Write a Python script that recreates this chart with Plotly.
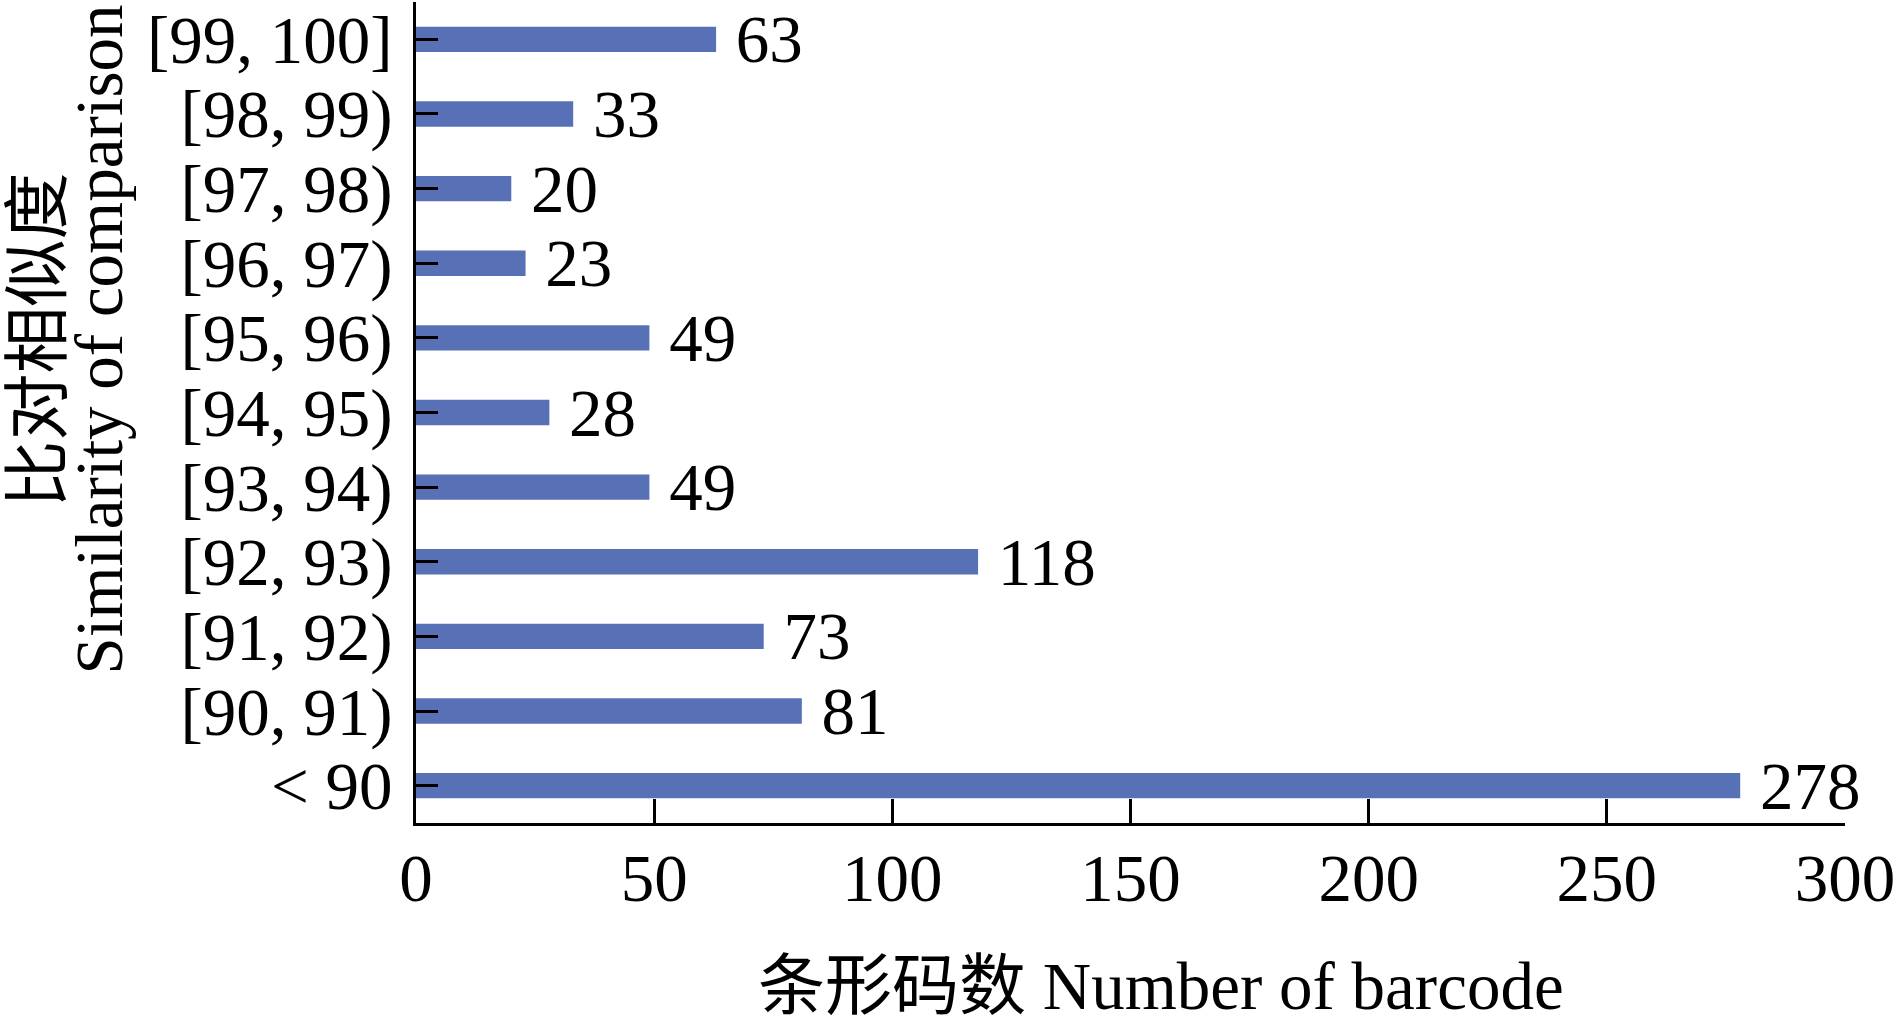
import plotly.graph_objects as go

categories = ["< 90", "[90, 91)", "[91, 92)", "[92, 93)", "[93, 94)", "[94, 95)",
              "[95, 96)", "[96, 97)", "[97, 98)", "[98, 99)", "[99, 100]"]
counts = [278, 81, 73, 118, 49, 28, 49, 23, 20, 33, 63]
x_ticks = [0, 50, 100, 150, 200, 250, 300]

x_title = "条形码数 Number of barcode"
y_title_cn = "比对相似度"
y_title_en = "Similarity of comparison"

FONT = "Liberation Serif, Times New Roman, Noto Sans CJK SC, serif"
BAR_COLOR = "#5870B6"
FS = 67

fig = go.Figure()
fig.add_trace(go.Bar(
    x=counts, y=categories, orientation="h",
    marker=dict(color=BAR_COLOR, line=dict(width=0)),
    width=0.34,
    text=["\u00a0" + str(v) for v in counts],
    textposition="outside",
    constraintext="none",
    cliponaxis=False,
    textfont=dict(family=FONT, size=FS, color="black"),
    hoverinfo="x+y",
))

fig.update_layout(
    width=1896, height=1029,
    margin=dict(l=416, r=51, t=2, b=206, pad=0),
    paper_bgcolor="white", plot_bgcolor="white",
    showlegend=False,
    font=dict(family=FONT, size=FS, color="black"),
    xaxis=dict(
        range=[0, 300], tickmode="array", tickvals=x_ticks,
        ticktext=[str(t) for t in x_ticks],
        ticks="inside", ticklen=24, tickwidth=3, tickcolor="black",
        showline=True, linecolor="black", linewidth=3,
        showgrid=False, zeroline=False, automargin=False,
        tickfont=dict(family=FONT, size=FS, color="black"),
        ticklabelstandoff=-5,
    ),
    yaxis=dict(
        type="category", categoryorder="array", categoryarray=categories,
        tickmode="array", tickvals=categories, ticktext=categories,
        range=[-0.5, 10.5],
        ticks="inside", ticklen=22, tickwidth=3, tickcolor="black",
        showline=True, linecolor="black", linewidth=3,
        showgrid=False, zeroline=False, automargin=False,
        tickfont=dict(family=FONT, size=FS, color="black"),
        ticklabelstandoff=7,
    ),
    annotations=[
        dict(text=x_title, xref="paper", yref="paper", x=0.521, y=-0.1985,
             xanchor="center", yanchor="middle", showarrow=False,
             font=dict(family=FONT, size=FS, color="black")),
        dict(text=y_title_cn, xref="paper", yref="paper", x=(38 - 416) / 1429, y=0.589,
             xanchor="center", yanchor="middle", textangle=-90, showarrow=False,
             font=dict(family=FONT, size=FS, color="black")),
        dict(text=y_title_en, xref="paper", yref="paper", x=(99 - 416) / 1429, y=0.589,
             xanchor="center", yanchor="middle", textangle=-90, showarrow=False,
             font=dict(family=FONT, size=FS, color="black")),
    ],
)

fig.write_html(
    "out.html",
    config={"displayModeBar": False},
    post_script="document.body.style.margin='0';document.body.style.overflow='hidden';",
)
